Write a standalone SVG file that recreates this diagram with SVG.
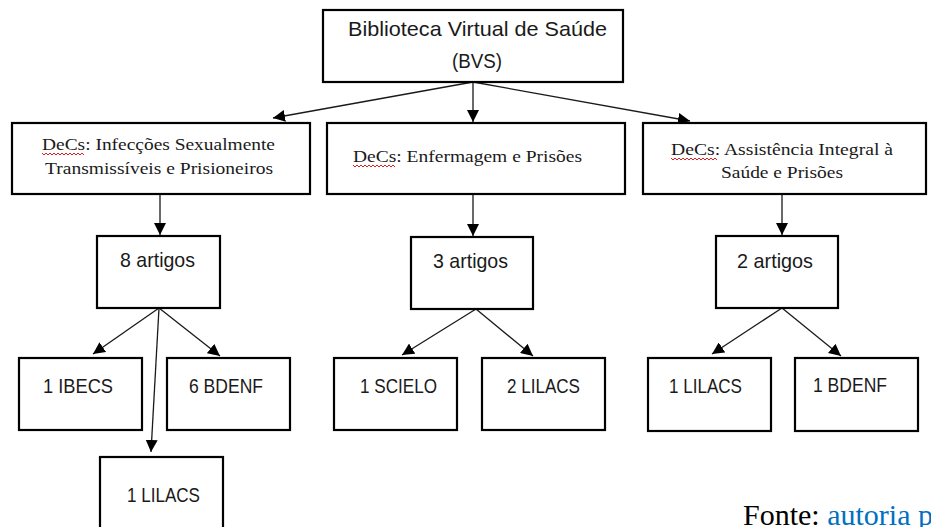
<svg xmlns="http://www.w3.org/2000/svg" width="931" height="527" viewBox="0 0 931 527">
<style>
.box{fill:#fff;stroke:#000;stroke-width:2.2}
.c{stroke:#1a1a1a;stroke-width:1.3;fill:none;marker-end:url(#ah)}
.s{font-family:"Liberation Sans",Arial,sans-serif;font-size:21px;fill:#1a1a1a}
.t{font-family:"Liberation Serif","Times New Roman",serif;font-size:17px;fill:#1a1a1a}
.sq{fill:none;stroke:#e02020;stroke-width:1}
.f{font-family:"Liberation Serif","Times New Roman",serif;font-size:30px;fill:#000}
</style>
<defs>
<marker id="ah" viewBox="0 0 10 10" refX="10" refY="5" markerWidth="12" markerHeight="12" markerUnits="userSpaceOnUse" orient="auto">
<path d="M0,0 L10,5 L0,10 z" fill="#000"/>
</marker>
</defs>
<rect width="931" height="527" fill="#fff"/>
<g id="connectors">
<line class="c" x1="473" y1="82" x2="473" y2="122"/>
<line class="c" x1="473" y1="82" x2="273" y2="118"/>
<line class="c" x1="473" y1="82" x2="690" y2="121"/>
<line class="c" x1="160" y1="194" x2="160" y2="235"/>
<line class="c" x1="473" y1="194" x2="473" y2="236"/>
<line class="c" x1="782" y1="194" x2="782" y2="235"/>
<line class="c" x1="159" y1="308" x2="93" y2="354"/>
<line class="c" x1="159" y1="308" x2="220" y2="356"/>
<line class="c" x1="159" y1="308" x2="151" y2="452"/>
<line class="c" x1="476" y1="309" x2="402" y2="355"/>
<line class="c" x1="476" y1="309" x2="533" y2="356"/>
<line class="c" x1="782" y1="308" x2="712" y2="354"/>
<line class="c" x1="782" y1="308" x2="841" y2="356"/>
</g>
<g id="bvs">
<rect class="box" x="323" y="10" width="300" height="72"/>
<text class="s" x="348" y="36" textLength="259" lengthAdjust="spacingAndGlyphs">Biblioteca Virtual de Saúde</text>
<text class="s" x="452" y="68" textLength="50" lengthAdjust="spacingAndGlyphs">(BVS)</text>
</g>
<g id="decs-ist">
<rect class="box" x="12" y="123" width="298" height="71"/>
<text class="t" x="42" y="150" textLength="233" lengthAdjust="spacingAndGlyphs">DeCs: Infecções Sexualmente</text>
<text class="t" x="45" y="174" textLength="228" lengthAdjust="spacingAndGlyphs">Transmissíveis e Prisioneiros</text>
<path class="sq" d="M42,153 l2,2 l2,-2 l2,2 l2,-2 l2,2 l2,-2 l2,2 l2,-2 l2,2 l2,-2 l2,2 l2,-2 l2,2 l2,-2 l2,2 l2,-2 l2,2 l2,-2 l2,2 l2,-2 l2,2"/>
</g>
<g id="decs-enf">
<rect class="box" x="327" y="123" width="298" height="71"/>
<text class="t" x="353" y="162" textLength="229" lengthAdjust="spacingAndGlyphs">DeCs: Enfermagem e Prisões</text>
<path class="sq" d="M353,165 l2,2 l2,-2 l2,2 l2,-2 l2,2 l2,-2 l2,2 l2,-2 l2,2 l2,-2 l2,2 l2,-2 l2,2 l2,-2 l2,2 l2,-2 l2,2 l2,-2 l2,2 l2,-2 l2,2"/>
</g>
<g id="decs-ais">
<rect class="box" x="643" y="123" width="283" height="71"/>
<text class="t" x="671" y="155" textLength="222" lengthAdjust="spacingAndGlyphs">DeCs: Assistência Integral à</text>
<text class="t" x="721" y="178" textLength="122" lengthAdjust="spacingAndGlyphs">Saúde e Prisões</text>
<path class="sq" d="M671,158 l2,2 l2,-2 l2,2 l2,-2 l2,2 l2,-2 l2,2 l2,-2 l2,2 l2,-2 l2,2 l2,-2 l2,2 l2,-2 l2,2 l2,-2 l2,2 l2,-2 l2,2 l2,-2 l2,2 l2,-2 l2,2"/>
</g>
<g id="n8">
<rect class="box" x="97" y="236" width="123" height="72"/>
<text class="s" x="120" y="267" textLength="75" lengthAdjust="spacingAndGlyphs">8 artigos</text>
</g>
<g id="n3">
<rect class="box" x="411" y="237" width="122" height="72"/>
<text class="s" x="433" y="268" textLength="75" lengthAdjust="spacingAndGlyphs">3 artigos</text>
</g>
<g id="n2">
<rect class="box" x="716" y="236" width="122" height="72"/>
<text class="s" x="737" y="268" textLength="76" lengthAdjust="spacingAndGlyphs">2 artigos</text>
</g>
<g id="ibecs">
<rect class="box" x="19" y="358" width="123" height="72"/>
<text class="s" x="43" y="393" textLength="70" lengthAdjust="spacingAndGlyphs">1 IBECS</text>
</g>
<g id="bdenf6">
<rect class="box" x="167" y="358" width="123" height="72"/>
<text class="s" x="189" y="393" textLength="74" lengthAdjust="spacingAndGlyphs">6 BDENF</text>
</g>
<g id="lilacs1a">
<rect class="box" x="100" y="457" width="123" height="74"/>
<text class="s" x="127" y="502" textLength="73" lengthAdjust="spacingAndGlyphs">1 LILACS</text>
</g>
<g id="scielo">
<rect class="box" x="334" y="358" width="123" height="72"/>
<text class="s" x="360" y="393" textLength="77" lengthAdjust="spacingAndGlyphs">1 SCIELO</text>
</g>
<g id="lilacs2">
<rect class="box" x="482" y="358" width="123" height="72"/>
<text class="s" x="507" y="393" textLength="73" lengthAdjust="spacingAndGlyphs">2 LILACS</text>
</g>
<g id="lilacs1b">
<rect class="box" x="648" y="358" width="123" height="73"/>
<text class="s" x="669" y="393" textLength="73" lengthAdjust="spacingAndGlyphs">1 LILACS</text>
</g>
<g id="bdenf1">
<rect class="box" x="795" y="358" width="123" height="73"/>
<text class="s" x="813" y="392" textLength="74" lengthAdjust="spacingAndGlyphs">1 BDENF</text>
</g>
<text class="f" x="743" y="525">Fonte: <tspan fill="#0070c0">autoria p</tspan></text>
</svg>
